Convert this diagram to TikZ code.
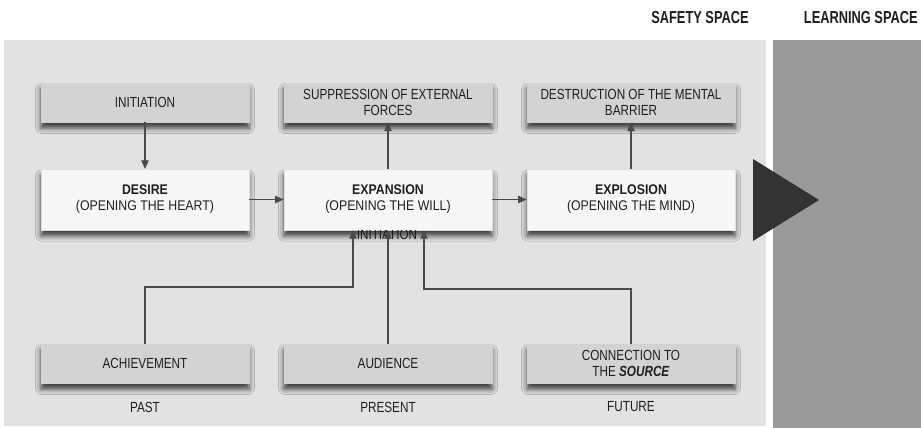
\documentclass[tikz,border=0pt]{standalone}
\usepackage{fontspec}
\setmainfont{Liberation Sans}[FakeStretch=0.80]
\newfontfamily\widefont{Liberation Sans}[FakeStretch=0.88]
\newfontfamily\headfont{Liberation Sans}[FakeStretch=0.74]
\usetikzlibrary{arrows.meta,shadows.blur}

\definecolor{panellight}{HTML}{E2E2E2}
\definecolor{paneldark}{HTML}{9A9A9A}
\definecolor{boxgray}{HTML}{D3D3D3}
\definecolor{boxwhite}{HTML}{F7F7F7}
\definecolor{linkgray}{HTML}{4A4A4A}
\definecolor{bigarrow}{HTML}{333333}
\definecolor{inkgray}{HTML}{1E1E1E}

\tikzset{
  basebox/.style={rectangle, inner sep=2pt, align=center, text=inkgray,
    blur shadow={shadow xshift=0pt, shadow yshift=-4.5pt,
                 shadow blur radius=4pt, shadow opacity=75}},
  graybox/.style={basebox, fill=boxgray, draw=black!18, line width=0.3pt,
    minimum width=156pt, minimum height=29.5pt,
    font=\fontsize{11}{12.5}\selectfont},
  whitebox/.style={basebox, fill=boxwhite, draw=black!12, line width=0.3pt,
    minimum width=156pt, minimum height=45.5pt,
    font=\widefont\fontsize{10.5}{12}\selectfont},
  link/.style={draw=linkgray, line width=1pt,
    -{Triangle[length=6.5pt,width=5.5pt]}},
  header/.style={font=\headfont\bfseries\fontsize{13}{15}\selectfont, text=inkgray},
  timelabel/.style={font=\fontsize{11}{12.5}\selectfont, text=inkgray},
}

\begin{document}
\begin{tikzpicture}[x=0.75pt,y=-0.75pt]
  \useasboundingbox (0,0) rectangle (921,428);

  % the two spaces
  \fill[panellight] (4,40) rectangle (766,426);
  \fill[paneldark] (773,40) rectangle (921,428);
  \node[header] (safety) at (700,18) {SAFETY SPACE};
  \node[header, anchor=east, inner sep=0pt] (learning) at (918,18) {LEARNING SPACE};

  % upper row
  \node[graybox] (init) at (145,102.5) {INITIATION};
  \node[graybox] (supp) at (388,102.5) {SUPPRESSION OF EXTERNAL\\FORCES};
  \node[graybox] (dest) at (631,102.5) {DESTRUCTION OF THE MENTAL\\BARRIER};

  % middle row
  \node[whitebox] (des) at (145,199.5) {\textbf{DESIRE}\\(OPENING THE HEART)};
  \node[whitebox] (exp) at (388,199.5) {\textbf{EXPANSION}\\(OPENING THE WILL)};
  \node[whitebox] (expl) at (631,199.5) {\textbf{EXPLOSION}\\(OPENING THE MIND)};

  % label tucked beneath the expansion box
  \begin{scope}
    \clip (300,230.5) rectangle (480,260);
    \node[font=\fontsize{11}{12.5}\selectfont, text=inkgray] (initb) at (387,234.5) {INITIATION};
  \end{scope}

  % lower row
  \node[graybox] (ach) at (145,363.5) {ACHIEVEMENT};
  \node[graybox] (aud) at (388,363.5) {AUDIENCE};
  \node[graybox] (con) at (631,363.5) {CONNECTION TO\\THE \textbf{\textit{SOURCE}}};

  \node[timelabel] (past) at (145,407) {PAST};
  \node[timelabel] (present) at (388,407) {PRESENT};
  \node[timelabel] (future) at (631,407) {FUTURE};

  % connectors
  \draw[link] (init.south) -- (des.north);
  \draw[link] (exp.north) -- (supp.south);
  \draw[link] (expl.north) -- (dest.south);
  \draw[link] (des.east) -- (exp.west);
  \draw[link] (exp.east) -- (expl.west);

  \coordinate (jl) at (353,287);
  \coordinate (jr) at (424,289);
  \draw[link] (ach.north) |- (jl) -- (jl |- exp.south);
  \draw[link] (aud.north) -- (exp.south);
  \draw[link] (con.north) |- (jr) -- (jr |- exp.south);

  % transition into the learning space
  \fill[bigarrow] (753,159) -- (819,200) -- (753,241) -- cycle;
\end{tikzpicture}
\end{document}
